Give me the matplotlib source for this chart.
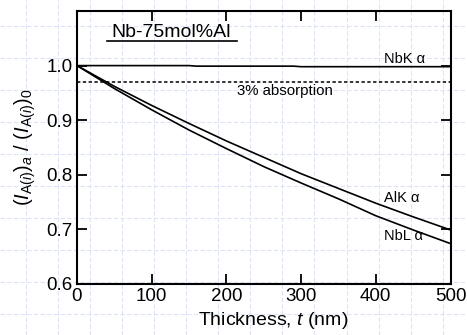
import matplotlib
matplotlib.use("Agg")
import matplotlib.pyplot as plt
from matplotlib.lines import Line2D

plt.rcParams['font.family'] = ['Liberation Sans', 'DejaVu Sans']
plt.rcParams['mathtext.fontset'] = 'custom'
plt.rcParams['mathtext.rm'] = 'Liberation Sans'
plt.rcParams['mathtext.it'] = 'Liberation Sans:italic'

# data
thickness = [0, 50, 100, 150, 200, 250, 300, 350, 400, 450, 500]
alka = [1.0, 0.962, 0.927, 0.894, 0.862, 0.832, 0.802, 0.775, 0.748, 0.723, 0.699]
nbla = [1.0, 0.958, 0.919, 0.882, 0.848, 0.815, 0.785, 0.756, 0.725, 0.699, 0.674]
nbka_t = [0, 150, 160, 290, 300, 500]
nbka = [1.0, 1.0, 0.999, 0.999, 0.998, 0.998]
absorption_level = 0.97
xticks = [0, 100, 200, 300, 400, 500]
yticks = [0.6, 0.7, 0.8, 0.9, 1.0]

W, H = 467, 335
fig = plt.figure(figsize=(W / 100, H / 100), dpi=100)

# background graph-paper grid
gcol = '#dce4f7'
step = 32.05
k = 0
while 26 + k * step < W:
    px = 26 + k * step
    fig.add_artist(Line2D([px / W, px / W], [0, 1], transform=fig.transFigure,
                          color=gcol, lw=0.8, ls=(0, (4, 2)), zorder=0))
    k += 1
k = 0
while 26 + k * step < H:
    py = 26 + k * step
    fig.add_artist(Line2D([0, 1], [1 - py / H, 1 - py / H], transform=fig.transFigure,
                          color=gcol, lw=0.8, ls=(0, (4, 2)), zorder=0))
    k += 1

ax = fig.add_axes([77 / W, 1 - 284 / H, (450.5 - 77) / W, (284 - 11) / H])
ax.patch.set_alpha(0)
ax.set_zorder(1)

ax.plot(nbka_t, nbka, color='black', lw=1.2)
ax.plot(thickness, alka, color='black', lw=1.2)
ax.plot(thickness, nbla, color='black', lw=1.2)
ax.plot([0, 500], [absorption_level, absorption_level], color='black', lw=1.1,
        ls=(0, (2.2, 1.6)))

ax.set_xlim(0, 500)
ax.set_ylim(0.6, 1.1)
ax.set_xticks(xticks)
ax.set_yticks(yticks)
ax.set_xticklabels([str(v) for v in xticks])
ax.set_yticklabels(['%.1f' % v for v in yticks])
ax.tick_params(direction='in', length=7, width=1.3, labelsize=13.5, pad=3,
               top=True, right=True, colors='black')
for s in ax.spines.values():
    s.set_linewidth(1.5)

ax.set_xlabel(r'Thickness, $\mathit{t}$ (nm)', fontsize=14, labelpad=2)
ax.xaxis.set_label_coords(0.525, -0.095)
ax.set_ylabel(r'$(\mathit{I}_{\mathrm{A}(\mathit{i})})_{\mathit{a}}\ /\ (\mathit{I}_{\mathrm{A}(\mathit{i})})_{\mathit{0}}$',
              fontsize=14.5, labelpad=6)

ax.text(126.5, 1.053, 'Nb-75mol%Al', fontsize=14, ha='center', va='baseline')
ax.plot([40, 214], [1.045, 1.045], color='black', lw=1.2)
ax.text(411, 1.012, 'NbK α', fontsize=10.5, ha='left', va='center')
ax.text(214, 0.954, '3% absorption', fontsize=10.8, ha='left', va='center')
ax.text(411, 0.7576, 'AlK α', fontsize=10.5, ha='left', va='center')
ax.text(411, 0.687, 'NbL α', fontsize=10.5, ha='left', va='center')

fig.savefig('out.png', dpi=100)
